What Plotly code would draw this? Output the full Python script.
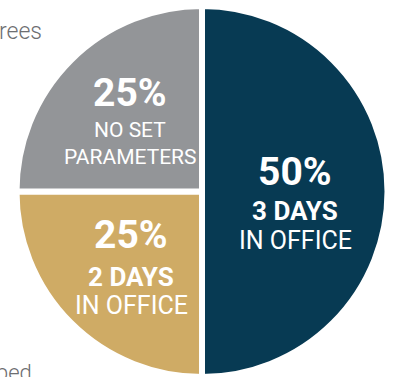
import plotly.graph_objects as go

categories = ["3 DAYS<br>IN OFFICE", "2 DAYS<br>IN OFFICE", "NO SET<br>PARAMETERS"]
values = [50, 25, 25]
colors = ["#073A53", "#CFAB65", "#939598"]
bold_part = ["3 DAYS", "2 DAYS", ""]
light_part = [["IN OFFICE"], ["IN OFFICE"], ["NO SET", "PARAMETERS"]]

W, H = 393, 377

fig = go.Figure(go.Pie(
    labels=categories,
    values=values,
    sort=False,
    direction="clockwise",
    rotation=0,
    marker=dict(colors=colors, line=dict(color="white", width=6)),
    textinfo="none",
    hoverinfo="label+percent",
    domain=dict(x=[16.5 / W, 387.5 / W], y=[0, 371 / H]),
    showlegend=False,
))

def px(x):
    return x / W

def py(y):
    return 1 - y / H

font_fam = "Roboto"
ann = []
total = sum(values)
pct = [f"{round(v / total * 100)}%" for v in values]
layouts = [
    (295, [(172, pct[0], 39, 700), (211, bold_part[0], 26, 700), (240, light_part[0][0], 25, 400)]),
    (131, [(235, pct[1], 39, 700), (277, bold_part[1], 26, 700), (305, light_part[1][0], 25, 400)]),
    (130, [(93, pct[2], 39, 700), (130, light_part[2][0], 21, 400), (157, light_part[2][1], 21, 400)]),
]
for cx, lines in layouts:
    for y, t, s, w in lines:
        ann.append(dict(x=px(cx), y=py(y), xref="paper", yref="paper", text=t,
                        showarrow=False, xanchor="center", yanchor="middle",
                        font=dict(family=font_fam, size=s, color="white", weight=w)))

# cropped surrounding text
ann.append(dict(x=px(44), y=py(31), xref="paper", yref="paper", text="rees", showarrow=False,
                xanchor="right", yanchor="middle",
                font=dict(family=font_fam, size=23, color="#6D6E71", weight=300)))
ann.append(dict(x=px(34), y=py(372), xref="paper", yref="paper", text="ped", showarrow=False,
                xanchor="right", yanchor="middle",
                font=dict(family=font_fam, size=22, color="#6D6E71", weight=300)))

fig.update_layout(
    width=W, height=H,
    margin=dict(l=0, r=0, t=0, b=0),
    paper_bgcolor="white", plot_bgcolor="white",
    annotations=ann,
)

fig.write_html("out.html")
